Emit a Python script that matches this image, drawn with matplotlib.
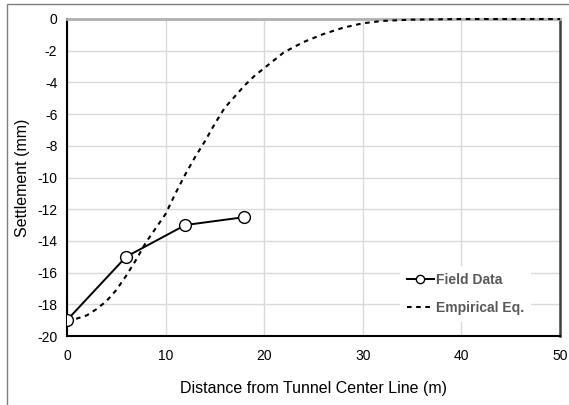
import matplotlib
matplotlib.use("Agg")
import matplotlib.pyplot as plt
from matplotlib.patches import Rectangle

plt.rcParams['font.family'] = ['Liberation Sans', 'DejaVu Sans']

# Field measurements
field_x = [0, 6, 12, 18]
field_y = [-19.0, -15.0, -13.0, -12.5]

# Empirical equation curve
emp_x = [0, 1, 2, 3, 4, 5, 6, 7, 8, 9, 10, 11, 12, 13, 14, 15, 16, 17, 18, 19, 20,
         22, 24, 26, 28, 30, 32, 35, 40, 45, 50]
emp_y = [-19.0, -18.9, -18.7, -18.3, -17.8, -17.1, -16.2, -15.2, -14.1, -13.2, -12.3,
         -11.0, -9.8, -8.7, -7.7, -6.6, -5.6, -4.9, -4.2, -3.6, -3.1,
         -2.1, -1.45, -0.95, -0.55, -0.27, -0.12, -0.04, 0.0, 0.0, 0.0]

x_ticks = [0, 10, 20, 30, 40, 50]
y_ticks = [0, -2, -4, -6, -8, -10, -12, -14, -16, -18, -20]

W, H = 569, 405
fig = plt.figure(figsize=(W / 100, H / 100), dpi=100)
fig.patch.set_facecolor('white')

# outer frame
fig.add_artist(Rectangle((7 / W, -0.01), 1.0, (H - 4) / H + 0.01, transform=fig.transFigure,
                         fill=False, edgecolor='#7f7f7f', linewidth=1.0))

ax = fig.add_axes([67 / W, 1 - 336 / H, (560 - 67) / W, (336 - 19) / H])
ax.set_xlim(0, 50)
ax.set_ylim(-20, 0)
ax.set_xticks(x_ticks)
ax.set_yticks(y_ticks)
ax.set_xticklabels([str(v) for v in x_ticks])
ax.set_yticklabels([str(v) for v in y_ticks])
ax.grid(True, color='#d9d9d9', linewidth=1.0)
ax.set_axisbelow(True)
ax.tick_params(length=0, labelsize=10, colors='black')
ax.tick_params(axis='x', pad=9)
ax.tick_params(axis='y', pad=7)

for side in ['left', 'bottom']:
    ax.spines[side].set_color('black')
    ax.spines[side].set_linewidth(1.5)
ax.spines['right'].set_color('#404040')
ax.spines['right'].set_linewidth(1.8)
ax.spines['top'].set_color('#b0b0b0')
ax.spines['top'].set_linewidth(2.0)

ax.plot(field_x, field_y, color='black', linewidth=1.4, marker='o', markersize=8.5,
        markerfacecolor='white', markeredgecolor='black', markeredgewidth=1.0,
        label='Field Data', zorder=4)
ax.plot(emp_x, emp_y, color='black', linewidth=1.5, linestyle=(0, (2.2, 2.2)),
        label='Empirical Eq.', zorder=3, clip_on=False)

leg = ax.legend(loc='center left', bbox_to_anchor=(0.662, 0.133), frameon=True,
                prop={'weight': 'bold', 'size': 10}, labelcolor='#595959',
                handlelength=1.9, handletextpad=0.15, labelspacing=1.05,
                borderpad=0.5, markerscale=0.7)
leg.get_frame().set_edgecolor('none')
leg.get_frame().set_facecolor('white')
leg.get_frame().set_alpha(1.0)

ax.set_xlabel('Distance from Tunnel Center Line (m)', fontsize=11.5, labelpad=13)
ax.set_ylabel('Settlement (mm)', fontsize=11.5, labelpad=5)

fig.savefig('out.png', dpi=100)
